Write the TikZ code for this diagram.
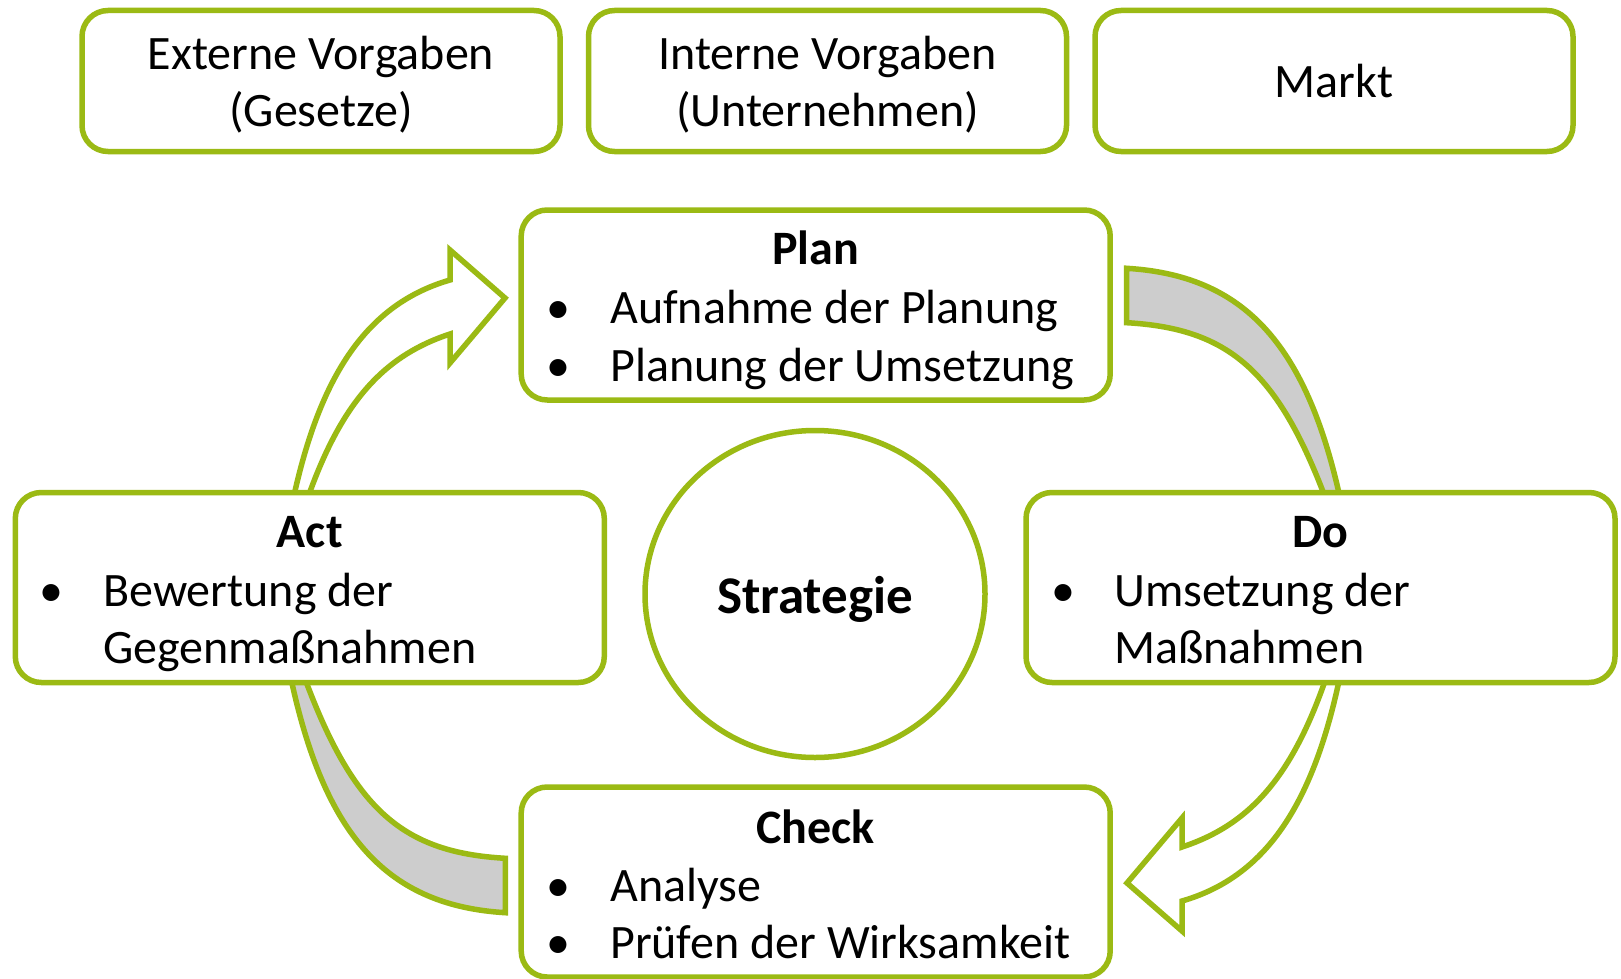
\documentclass[tikz,border=0pt]{standalone}
\usepackage{fontspec}
\setmainfont{Carlito}
\usetikzlibrary{shapes.geometric}
\definecolor{pgreen}{RGB}{155,186,20}
\definecolor{pgray}{RGB}{205,205,205}
\newcommand{\pdcaArrowPath}{(293,500) .. controls (320,375) and (367,304) .. (450,280) -- (450,250) -- (505,298) -- (450,363) -- (450,334) .. controls (383,356) and (341,403) .. (307,500) -- cycle}
\newcommand{\pdcaBandPath}{(1340.5,500) .. controls (1306,341.8) and (1242.4,275.3) .. (1126.7,268.3) -- (1126.7,322.7) .. controls (1228.4,328.5) and (1277.4,370.4) .. (1326.2,500) -- cycle}
\begin{document}
\begin{tikzpicture}[x=1pt,y=-1pt,
  box/.style={draw=pgreen, line width=5.5pt, rounded corners=26pt, fill=white, inner sep=0pt, minimum width=589pt, minimum height=190pt},
  topbox/.style={box, minimum width=478pt, minimum height=141pt},
  txt/.style={font=\fontsize{48}{58}\selectfont, inner sep=0pt, anchor=base},
  ttl/.style={txt, font=\fontsize{48}{58}\selectfont\bfseries},
  itm/.style={txt, anchor=base west},
  hollowarrow/.style={draw=pgreen, line width=5.5pt, fill=white, line join=miter},
  grayband/.style={draw=pgreen, line width=5.5pt, fill=pgray, line join=miter}]
\useasboundingbox (0,0) rectangle (1621,979);
\fill[white] (0,0) rectangle (1621,979);

% curved connectors (behind boxes)
\path[hollowarrow] \pdcaArrowPath;
\path[grayband] \pdcaBandPath;
\begin{scope}[rotate around={180:(816,590.5)}]
  \path[hollowarrow] \pdcaArrowPath;
  \path[grayband] \pdcaBandPath;
\end{scope}

% top boxes
\node[topbox] (ext) at (321,81) {};
\node[topbox] (int) at (827.5,81) {};
\node[topbox] (mkt) at (1334,81) {};
\node[txt] (ext1) at (321,70) {Externe Vorgaben};
\node[txt] (ext2) at (321,126) {(Gesetze)};
\node[txt] (int1) at (827.5,70) {Interne Vorgaben};
\node[txt] (int2) at (827.5,126) {(Unternehmen)};
\node[txt] (mkt1) at (1334,97.5) {Markt};

% PDCA boxes
\node[box] (plan) at (815.7,305) {};
\node[box] (act) at (309.8,587.5) {};
\node[box] (do) at (1320.5,587.5) {};
\node[box] (check) at (815.7,882) {};

% centre
\node[draw=pgreen, line width=5.5pt, fill=white, ellipse, minimum width=340pt, minimum height=327pt, inner sep=0pt] (strat) at (815,594) {};
\node[txt, font=\fontsize{53}{63}\selectfont\bfseries] (strattxt) at (815,613) {Strategie};

% Plan
\node[ttl] (plant) at (815.7,264) {Plan};
\node[txt] (planb1) at (558,323) {•};
\node[itm] (plani1) at (610,323) {Aufnahme der Planung};
\node[txt] (planb2) at (558,381) {•};
\node[itm] (plani2) at (610,381) {Planung der Umsetzung};

% Act
\node[ttl] (actt) at (309.8,547) {Act};
\node[txt] (actb1) at (51,606) {•};
\node[itm] (acti1) at (103,606) {Bewertung der};
\node[itm] (acti2) at (103,663) {Gegenmaßnahmen};

% Do
\node[ttl] (dot) at (1320.5,547) {Do};
\node[txt] (dob1) at (1063,606) {•};
\node[itm] (doi1) at (1114,606) {Umsetzung der};
\node[itm] (doi2) at (1114,663) {Maßnahmen};

% Check
\node[ttl] (checkt) at (815.7,843) {Check};
\node[txt] (checkb1) at (558,901) {•};
\node[itm] (checki1) at (610,901) {Analyse};
\node[txt] (checkb2) at (558,958) {•};
\node[itm] (checki2) at (610,958) {Prüfen der Wirksamkeit};
\end{tikzpicture}
\end{document}
